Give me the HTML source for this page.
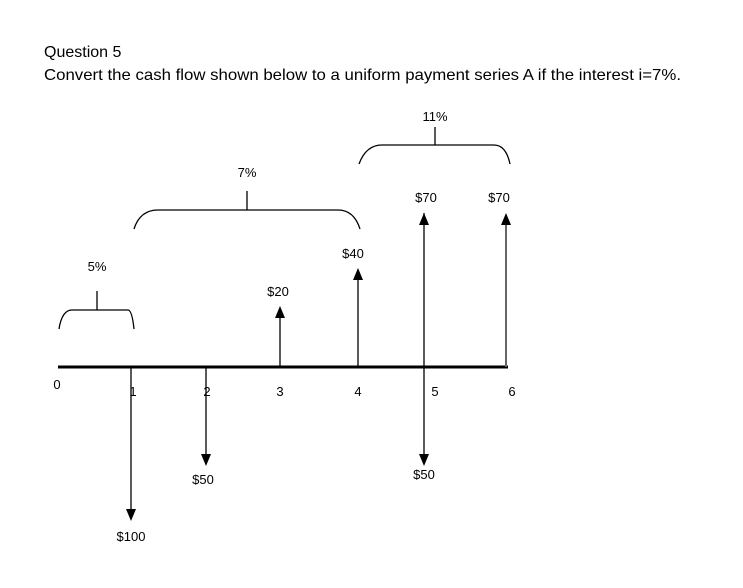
<!DOCTYPE html>
<html><head><meta charset="utf-8"><style>
html,body{margin:0;padding:0;background:#fff;}
svg{display:block;}
.t{font-family:"Liberation Sans",sans-serif;font-size:16px;fill:#000;}
.l{font-family:"Liberation Sans",sans-serif;font-size:13px;fill:#000;text-anchor:middle;}
</style></head><body>
<svg width="743" height="588" viewBox="0 0 743 588" xmlns="http://www.w3.org/2000/svg">
<text class="t" x="44" y="57">Question 5</text>
<text class="t" x="44" y="80" textLength="637" lengthAdjust="spacingAndGlyphs">Convert the cash flow shown below to a uniform payment series A if the interest i=7%.</text>

<line x1="58" y1="367" x2="508" y2="367" stroke="#000" stroke-width="3"/>

<g stroke="#000" stroke-width="1.3" fill="none">
<line x1="131" y1="367" x2="131" y2="510"/>
<line x1="206" y1="367" x2="206" y2="455"/>
<line x1="424" y1="213" x2="424" y2="455"/>
<line x1="280" y1="367" x2="280" y2="316"/>
<line x1="358" y1="367" x2="358" y2="279"/>
<line x1="506" y1="367" x2="506" y2="224" stroke="#666" stroke-width="2"/>
<path d="M59 329 Q62 310 72 310 L128 310 Q132 310 134 329"/>
<line x1="97" y1="291" x2="97" y2="310"/>
<path d="M134 229 Q140 210 158 210 L338 210 Q354 210 360 229"/>
<line x1="247" y1="191" x2="247" y2="210"/>
<path d="M359 164 Q366 145 382 145 L494 145 Q506 145 510 164"/>
<line x1="435" y1="127" x2="435" y2="145"/>
</g>
<g fill="#000">
<polygon points="126,509 136,509 131,521"/>
<polygon points="201,454 211,454 206,466"/>
<polygon points="419,454 429,454 424,466"/>
<polygon points="275,318 285,318 280,306"/>
<polygon points="353,280 363,280 358,268"/>
<polygon points="419,225 429,225 424,213"/>
<polygon points="501,225 511,225 506,213"/>
</g>

<text class="l" x="57" y="389">0</text>
<text class="l" x="133" y="396">1</text>
<text class="l" x="207" y="396">2</text>
<text class="l" x="280" y="396">3</text>
<text class="l" x="358" y="396">4</text>
<text class="l" x="435" y="396">5</text>
<text class="l" x="512" y="396">6</text>

<text class="l" x="97" y="271">5%</text>
<text class="l" x="247" y="177">7%</text>
<text class="l" x="435" y="121">11%</text>
<text class="l" x="278" y="296">$20</text>
<text class="l" x="353" y="258">$40</text>
<text class="l" x="426" y="202">$70</text>
<text class="l" x="499" y="202">$70</text>
<text class="l" x="203" y="484">$50</text>
<text class="l" x="424" y="479">$50</text>
<text class="l" x="131" y="541">$100</text>
</svg>
</body></html>
